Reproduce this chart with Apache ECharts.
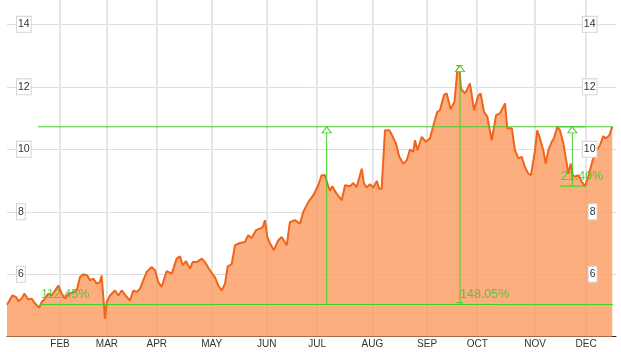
<!DOCTYPE html>
<html><head><meta charset="utf-8">
<script src="https://cdn.jsdelivr.net/npm/echarts@6/dist/echarts.min.js"></script>
<style>html,body{margin:0;padding:0;background:#fff}#c{width:621px;height:352px}</style>
</head><body><div id="c"></div>
<script>
// trading-day index of each sample
const days = [0, 2.19, 3.72, 4.67, 6.07, 7.15, 8.8, 10.2, 11.57, 13.35,
  14.34, 15.7, 17.07, 18.47, 19.83, 21.2, 21.9, 22.6, 23.97, 25.33,
  26.7, 28.8, 30.17, 31.5, 33.2, 34.3, 35.66, 37.07, 38.4, 39.1,
  39.8, 40.5, 41.2, 42.6, 44.6, 46.0, 47.4, 49.5, 50.8, 52.2,
  53.6, 55.0, 56.3, 57.7, 59.8, 61.2, 62.5, 63.9, 66.0, 68.1,
  70.1, 71.5, 72.6, 74.0, 75.6, 76.7, 78.4, 80.5, 81.8, 83.9,
  86.0, 87.3, 88.7, 90.1, 91.2, 92.85, 94.2, 96.3, 98.3, 99.7,
  101.1, 102.9, 104.5, 105.7, 106.6, 107.6, 108.7, 110.3, 112.1, 113.5,
  115.6, 116.9, 119.0, 121.1, 122.4, 124.5, 126.6, 128.6, 130.0, 131.4,
  132.4, 133.5, 134.4, 136.2, 138.3, 139.7, 141.7, 143.1, 144.5, 146.6,
  147.5, 148.6, 150.0, 151.4, 152.8, 153.8, 154.8, 156.2, 158.0, 159.4,
  160.7, 162.1, 163.8, 165.2, 166.5, 167.9, 168.6, 169.6, 171.4, 173.1,
  174.8, 176.2, 177.8, 178.9, 180.6, 181.7, 183.3, 184.9, 186.1, 186.9,
  187.6, 189.3, 191.3, 193.0, 194.8, 195.7, 197.1, 198.5, 200.3, 202.1,
  203.7, 205.8, 206.7, 208.6, 209.9, 211.3, 212.7, 214.0, 215.4, 216.5,
  218.2, 219.1, 220.2, 221.6, 222.6, 223.7, 225.1, 226.0, 227.4, 228.5,
  229.9, 231.3, 231.9, 232.9, 233.8, 234.7, 236.1, 237.5, 238.8, 240.2,
  242.0, 243.7, 245.0, 246.4, 247.5, 248.9, 250.1];
const prices = [5.02, 5.32, 5.27, 5.14, 5.22, 5.38, 5.19, 5.22, 5.06, 4.93,
  5.11, 5.22, 5.38, 5.32, 5.48, 5.64, 5.70, 5.38, 5.22, 5.38,
  5.40, 5.48, 5.91, 6.00, 5.96, 5.80, 5.86, 5.70, 5.75, 5.96,
  5.27, 4.58, 5.11, 5.32, 5.48, 5.32, 5.48, 5.27, 5.16, 5.48,
  5.43, 5.54, 5.80, 6.07, 6.23, 6.12, 5.75, 5.59, 6.10, 6.02,
  6.50, 6.57, 6.29, 6.42, 6.18, 6.39, 6.39, 6.50, 6.39, 6.12,
  5.89, 5.64, 5.48, 5.70, 6.25, 6.32, 6.93, 7.00, 7.03, 7.25,
  7.16, 7.41, 7.46, 7.51, 7.73, 7.19, 6.98, 6.77, 7.09, 7.19,
  6.93, 7.67, 7.73, 7.62, 7.99, 8.31, 8.53, 8.85, 9.17, 9.17,
  8.90, 8.67, 8.82, 8.58, 8.37, 8.85, 8.82, 8.92, 8.79, 9.38,
  8.90, 8.78, 8.88, 8.78, 8.99, 8.74, 8.74, 10.61, 10.61, 10.40,
  10.19, 9.76, 9.54, 9.65, 9.99, 9.92, 10.29, 9.97, 10.40, 10.24,
  10.35, 10.77, 11.20, 11.25, 11.75, 11.79, 11.28, 11.52, 12.54, 12.66,
  11.93, 11.79, 12.11, 11.25, 11.73, 11.79, 11.20, 11.04, 10.29, 11.09,
  11.15, 11.47, 10.67, 10.67, 9.97, 9.71, 9.76, 9.44, 9.22, 9.17,
  9.97, 10.61, 10.35, 9.97, 9.54, 9.97, 10.24, 10.35, 10.72, 10.61,
  10.19, 9.54, 9.22, 9.54, 9.17, 9.12, 9.17, 8.96, 8.82, 9.12,
  9.65, 9.97, 10.13, 10.42, 10.35, 10.45, 10.72];
const monthDays = [21.9, 41.3, 61.9, 84.6, 107.3, 128.2, 151.0, 173.6, 194.3, 218.2, 239.3];
const monthNames = ['FEB','MAR','APR','MAY','JUN','JUL','AUG','SEP','OCT','NOV','DEC'];
const priceTicks = [6, 8, 10, 12, 14];
// horizontal reference levels: [startDay, endDay, price]
const levelLines = [[12.8, 250.4, 10.72], [13.4, 250.4, 5.03]];
// measurements
const measureDays = [132.1, 187.2, 233.6];
const measureTops = [10.72, 12.68, 10.72];
const measureBottoms = [5.03, 5.03, 8.82];
const measureTexts = ['112.45%', '148.05%', '21.40%'];
const measureTextDays = [14.0, 187.2, 228.9];
// end caps: [startDay, endDay, price]
const capLines = [[185.5, 188.4, 12.68], [185.7, 188.4, 5.09], [227.3, 238.8, 10.72], [228.5, 238.8, 8.82]];

const GREEN = '#3fd024';
const TEXT_GREEN = '#30cc22';
const n = Math.min(days.length, prices.length);
const series0 = [];
for (let i = 0; i < n; i++) series0.push([days[i], prices[i]]);

const segs = [];
levelLines.forEach(l => segs.push([[l[0], l[2]], [l[1], l[2]]]));
measureDays.forEach((d, i) => segs.push([[d, measureTops[i]], [d, measureBottoms[i]]]));
capLines.forEach(l => segs.push([[l[0], l[2]], [l[1], l[2]]]));

const yBase = {type: 'value', min: 4, max: 14.78, axisLine: {show: false}};
const labelBox = {
  inside: true, customValues: priceTicks, color: '#333', fontSize: 10.5,
  fontFamily: 'Arial, "Liberation Sans", sans-serif',
  backgroundColor: '#fff', borderColor: '#d4d4d4', borderWidth: 1,
  padding: [2, 1, 2, 1], lineHeight: 11
};

const segSeries = segs.map(s => ({
  type: 'line', data: s, symbol: 'none', showSymbol: false, z: 5, silent: true,
  lineStyle: {color: GREEN, width: 1}, itemStyle: {color: GREEN}
}));

const chart = echarts.init(document.getElementById('c'), null, {renderer: 'canvas'});
chart.setOption({
  animation: false,
  grid: {left: 7, right: 5, top: 0, bottom: 15.3, containLabel: false},
  xAxis: {
    type: 'value', min: 0, max: 251.65,
    axisLine: {show: true, lineStyle: {color: '#222', width: 1}},
    axisTick: {show: false, customValues: monthDays},
    splitLine: {show: true, lineStyle: {color: '#e6e6e6', width: 2}},
    axisLabel: {
      customValues: monthDays, margin: 3,
      fontSize: 10, color: '#333',
      fontFamily: 'Arial, "Liberation Sans", sans-serif',
      formatter: v => { const k = monthDays.findIndex(d => Math.abs(d - v) < 0.01); return k >= 0 ? monthNames[k] : ''; }
    }
  },
  yAxis: [
    Object.assign({}, yBase, {position: 'left', axisTick: {show: false, customValues: priceTicks},
      axisLabel: {show: false}, splitLine: {show: true, lineStyle: {color: '#dedede', width: 1}}}),
    Object.assign({}, yBase, {position: 'left', z: 10, axisTick: {show: false}, splitLine: {show: false},
      axisLabel: Object.assign({}, labelBox, {margin: 10})}),
    Object.assign({}, yBase, {position: 'right', z: 10, axisTick: {show: false}, splitLine: {show: false},
      axisLabel: Object.assign({}, labelBox, {margin: 19.5})})
  ],
  series: [
    {
      type: 'line', data: series0, showSymbol: false, symbol: 'none',
      lineStyle: {color: '#f0641c', width: 2},
      areaStyle: {color: '#fb9a5f', opacity: 0.8, origin: 'start'},
      z: 2
    }
  ].concat(segSeries).concat([
    {
      type: 'scatter', z: 6,
      data: measureDays.map((d, i) => [d, measureTops[i]]),
      symbol: 'triangle', symbolSize: [9, 6], symbolOffset: [0, '50%'],
      itemStyle: {color: '#fff', borderColor: GREEN, borderWidth: 1, opacity: 1}
    },
    {
      type: 'scatter', z: 7,
      data: measureTextDays.map((d, i) => ({value: [d, measureBottoms[i]], name: measureTexts[i]})),
      symbolSize: 0,
      label: {show: true, position: 'right', distance: 0, offset: [0, -10],
        formatter: p => p.name, color: TEXT_GREEN, fontSize: 12.5,
        fontFamily: 'Arial, "Liberation Sans", sans-serif'}
    }
  ])
});
</script>
</body></html>
